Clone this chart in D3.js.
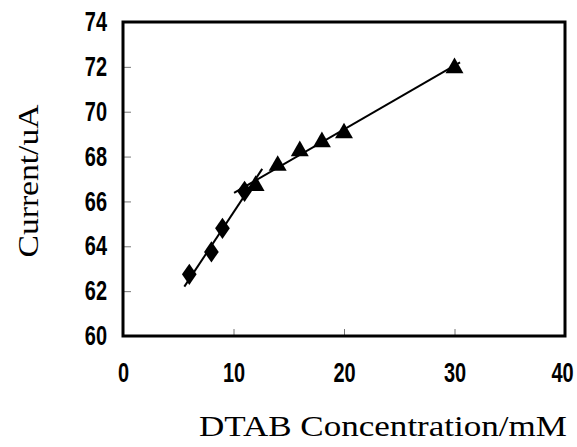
<!DOCTYPE html>
<html lang="en">
<head>
<meta charset="UTF-8">
<title>Current vs DTAB</title>
<style>
  body { margin: 0; background: #fff; }
  .tick text { font-family: "Liberation Sans", Arial, sans-serif; font-size: 27px; font-weight: bold; fill: #000; }
  .title { font-family: "Liberation Serif", "DejaVu Serif", serif; font-size: 30px; fill: #000; }
</style>
</head>
<body>
<script src="https://d3js.org/d3.v7.min.js"></script>
<svg id="chart" width="577" height="447"></svg>
<script>
  // pre-micellar points (diamonds)
  const preX = [6, 8, 9, 11];
  const preY = [62.75, 63.75, 64.8, 66.45];
  // post-micellar points (triangles)
  const postX = [12, 14, 16, 18, 20, 30];
  const postY = [66.7, 67.6, 68.25, 68.65, 69.05, 71.95];
  // fitted lines, end points
  const fit1 = [[5.55, 62.2], [12.6, 67.45]];
  const fit2 = [[10.05, 66.38], [30.5, 72.2]];

  const xTicks = [0, 10, 20, 30, 40];
  const yTicks = [60, 62, 64, 66, 68, 70, 72, 74];

  const margin = {left: 123, right: 12, top: 22, bottom: 111};
  const W = 577, H = 447;
  const svg = d3.select("#chart");

  const x = d3.scaleLinear().domain([0, 40]).range([margin.left, W - margin.right]);
  const y = d3.scaleLinear().domain([60, 74]).range([H - margin.bottom, margin.top]);

  // ticks inside the frame
  const xAxis = svg.append("g")
      .attr("transform", `translate(0,${y(60)})`)
      .call(d3.axisBottom(x).tickValues(xTicks).tickSizeInner(-7).tickSizeOuter(0).tickPadding(27));
  const yAxis = svg.append("g")
      .attr("transform", `translate(${x(0)},0)`)
      .call(d3.axisLeft(y).tickValues(yTicks).tickSizeInner(-8).tickSizeOuter(0).tickPadding(16));
  [xAxis, yAxis].forEach(a => {
    a.select(".domain").remove();
    a.selectAll(".tick line").attr("stroke", "#777").attr("stroke-width", 1);
  });
  // condensed look of the digits
  xAxis.selectAll(".tick text")
      .attr("transform", d => `translate(${d === 40 ? -3 : 0},0) scale(0.74,1)`);
  yAxis.selectAll(".tick text")
      .attr("transform", "translate(-16,0) scale(0.74,1)")
      .attr("x", 0);

  // frame
  svg.append("rect")
      .attr("x", x(0)).attr("y", y(74))
      .attr("width", x(40) - x(0)).attr("height", y(60) - y(74))
      .attr("fill", "none").attr("stroke", "#000").attr("stroke-width", 3);

  const line = d3.line().x(d => x(d[0])).y(d => y(d[1]));
  [fit1, fit2].forEach(f => {
    svg.append("path").attr("d", line(f))
        .attr("fill", "none").attr("stroke", "#000").attr("stroke-width", 2);
  });

  svg.append("g").selectAll("path")
    .data(preX.map((v, i) => [v, preY[i]]))
    .join("path")
      .attr("d", d3.symbol(d3.symbolDiamond, 130))
      .attr("transform", d => `translate(${x(d[0])},${y(d[1])}) scale(1.2,1)`)
      .attr("fill", "#000");

  svg.append("g").selectAll("path")
    .data(postX.map((v, i) => [v, postY[i]]))
    .join("path")
      .attr("d", d3.symbol(d3.symbolTriangle, 140))
      .attr("transform", d => `translate(${x(d[0])},${y(d[1])})`)
      .attr("fill", "#000");

  svg.append("text").attr("class", "title")
      .attr("text-anchor", "middle")
      .attr("transform", `translate(38,181) rotate(-90)`)
      .attr("textLength", 153).attr("lengthAdjust", "spacingAndGlyphs")
      .text("Current/uA");
  svg.append("text").attr("class", "title")
      .attr("text-anchor", "middle")
      .attr("x", 383).attr("y", 436)
      .attr("textLength", 368).attr("lengthAdjust", "spacingAndGlyphs")
      .text("DTAB Concentration/mM");
</script>
</body>
</html>
